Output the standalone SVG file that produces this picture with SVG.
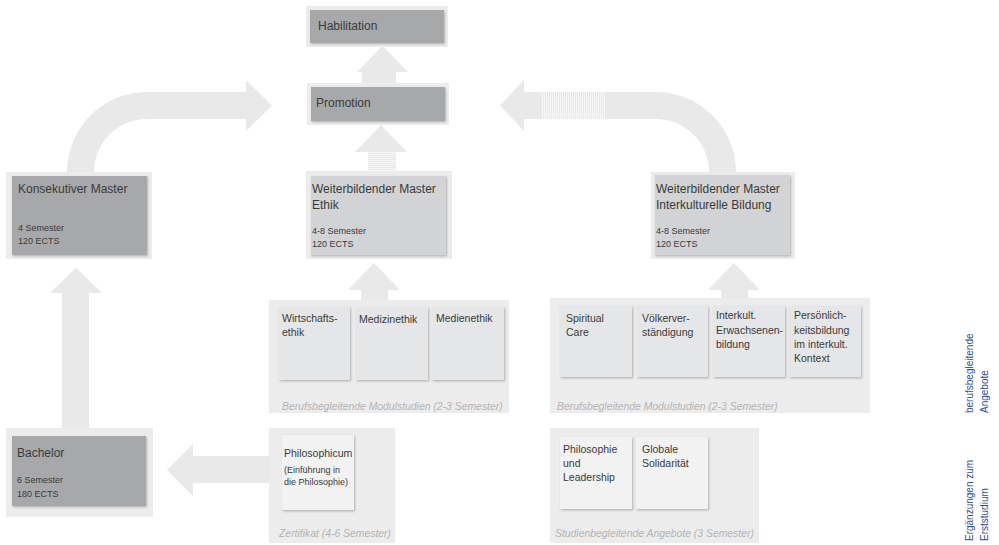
<svg xmlns="http://www.w3.org/2000/svg" width="999" height="545" viewBox="0 0 999 545">
<style>
text{font-family:"Liberation Sans",Arial,sans-serif;fill:#3a3a3a}
.t{font-size:12px}
.s{font-size:9px}
.c{font-size:10.5px}
.cap{font-size:10.4px;font-style:italic;fill:#b4b4b4}
.side{font-size:10px;fill:#2d4c9c}
.frame{fill:#ececec}
.dark{fill:#a7a8aa}
.mid{fill:#d2d3d5}
.card{fill:#e5e6e7}
.cardl{fill:#f2f2f3}
.arr{fill:#e9e9e9}
</style>
<defs>
<filter id="sh" x="-10%" y="-10%" width="130%" height="130%">
<feDropShadow dx="1" dy="1.2" stdDeviation="1" flood-color="#000" flood-opacity="0.25"/>
</filter>
<pattern id="vs" width="2" height="4" patternUnits="userSpaceOnUse">
<rect width="1" height="4" fill="#ffffff" opacity="0.6"/>
</pattern>
<pattern id="hs" width="4" height="2" patternUnits="userSpaceOnUse">
<rect width="4" height="1" fill="#ffffff" opacity="0.6"/>
</pattern>
</defs>

<g id="connectors">
<path class="arr" d="M67,172 A80,80 0 0 1 147,92 L246,92 L246,80 L272,105.5 L246,131 L246,119 L147,119 A53,53 0 0 0 94,172 Z"/>
<path class="arr" d="M736,172 A80,80 0 0 0 656,92 L524,92 L524,80 L500,105.5 L524,131 L524,119 L656,119 A53,53 0 0 1 709,172 Z"/>
<rect x="541" y="92" width="64" height="27" fill="url(#vs)"/>
<path class="arr" d="M362,83 L362,72 L357,72 L382.5,46 L408,72 L396,72 L396,83 Z"/>
<path class="arr" d="M368,172 L368,152 L355,152 L381,125 L407,152 L396,152 L396,172 Z"/>
<rect x="368" y="152" width="28" height="20" fill="url(#hs)"/>
<path class="arr" d="M361,300 L361,290 L348,290 L374,263 L400,290 L388,290 L388,300 Z"/>
<path class="arr" d="M721,298 L721,290 L708,290 L734,263 L760,290 L748,290 L748,298 Z"/>
<path class="arr" d="M62,428 L62,293 L50,293 L76,268 L102,293 L89,293 L89,428 Z"/>
<path class="arr" d="M270,456 L193,456 L193,444 L167,470 L193,496 L193,483 L270,483 Z"/>
</g>

<g id="habilitation">
<rect class="frame" x="306" y="6" width="142" height="41"/>
<rect class="dark" x="310" y="10" width="134" height="33" filter="url(#sh)"/>
<text class="t" x="318" y="30">Habilitation</text>
</g>

<g id="promotion">
<rect class="frame" x="307" y="83" width="142" height="42"/>
<rect class="dark" x="311" y="87" width="134" height="34" filter="url(#sh)"/>
<text class="t" x="316" y="107">Promotion</text>
</g>

<g id="konsekutiver-master">
<rect class="frame" x="6" y="172" width="146" height="87"/>
<rect class="dark" x="12" y="176" width="135" height="79" filter="url(#sh)"/>
<text class="t" x="18" y="193">Konsekutiver Master</text>
<text class="s" x="18" y="231">4 Semester</text>
<text class="s" x="18" y="244">120 ECTS</text>
</g>

<g id="master-ethik">
<rect class="frame" x="306" y="171" width="146" height="88"/>
<rect class="mid" x="311" y="176" width="135" height="79" filter="url(#sh)"/>
<text class="t" x="312" y="193">Weiterbildender Master</text>
<text class="t" x="312" y="209">Ethik</text>
<text class="s" x="312" y="234">4-8 Semester</text>
<text class="s" x="312" y="247">120 ECTS</text>
</g>

<g id="master-interkulturell">
<rect class="frame" x="651" y="172" width="144" height="87"/>
<rect class="mid" x="655" y="175" width="135" height="80" filter="url(#sh)"/>
<text class="t" x="656" y="193">Weiterbildender Master</text>
<text class="t" x="656" y="209">Interkulturelle Bildung</text>
<text class="s" x="656" y="234">4-8 Semester</text>
<text class="s" x="656" y="247">120 ECTS</text>
</g>

<g id="modul-ethik">
<rect class="frame" x="269" y="300" width="240" height="113"/>
<rect class="card" x="279" y="307" width="71" height="73" filter="url(#sh)"/>
<rect class="card" x="356" y="307" width="72" height="73" filter="url(#sh)"/>
<rect class="card" x="432" y="307" width="72" height="73" filter="url(#sh)"/>
<text class="c" x="282" y="322">Wirtschafts-</text>
<text class="c" x="282" y="336">ethik</text>
<text class="c" x="359" y="323">Medizinethik</text>
<text class="c" x="436" y="322">Medienethik</text>
<text class="cap" x="282" y="410">Berufsbegleitende Modulstudien (2-3 Semester)</text>
</g>

<g id="modul-interkulturell">
<rect class="frame" x="550" y="298" width="320" height="115"/>
<rect class="card" x="560" y="306" width="72" height="71" filter="url(#sh)"/>
<rect class="card" x="637" y="306" width="71" height="71" filter="url(#sh)"/>
<rect class="card" x="713" y="306" width="72" height="71" filter="url(#sh)"/>
<rect class="card" x="789" y="306" width="72" height="71" filter="url(#sh)"/>
<text class="c" x="566" y="322">Spiritual</text>
<text class="c" x="566" y="336">Care</text>
<text class="c" x="642" y="322">Völkerver-</text>
<text class="c" x="642" y="336">ständigung</text>
<text class="c" x="716" y="319">Interkult.</text>
<text class="c" x="716" y="334">Erwachsenen-</text>
<text class="c" x="716" y="348">bildung</text>
<text class="c" x="794" y="319">Persönlich-</text>
<text class="c" x="794" y="334">keitsbildung</text>
<text class="c" x="794" y="348">im interkult.</text>
<text class="c" x="794" y="362">Kontext</text>
<text class="cap" x="557" y="410">Berufsbegleitende Modulstudien (2-3 Semester)</text>
</g>

<g id="studienbegleitend">
<rect class="frame" x="550" y="428" width="209" height="115"/>
<rect class="cardl" x="560" y="437" width="72" height="72" filter="url(#sh)"/>
<rect class="cardl" x="636" y="437" width="72" height="72" filter="url(#sh)"/>
<text class="c" x="563" y="453">Philosophie</text>
<text class="c" x="563" y="467">und</text>
<text class="c" x="563" y="481">Leadership</text>
<text class="c" x="642" y="453">Globale</text>
<text class="c" x="642" y="467">Solidarität</text>
<text class="cap" x="555" y="537">Studienbegleitende Angebote (3 Semester)</text>
</g>

<g id="zertifikat">
<rect class="frame" x="269" y="428" width="126" height="115"/>
<rect class="cardl" x="282" y="435" width="72" height="75" filter="url(#sh)"/>
<text class="c" x="284" y="457">Philosophicum</text>
<text class="s" x="284" y="473">(Einführung in</text>
<text class="s" x="284" y="485">die Philosophie)</text>
<text class="cap" x="279" y="537">Zertifikat (4-6 Semester)</text>
</g>

<g id="bachelor">
<rect class="frame" x="6" y="428" width="147" height="89"/>
<rect class="dark" x="12" y="436" width="134" height="70" filter="url(#sh)"/>
<text class="t" x="17" y="457">Bachelor</text>
<text class="s" x="17" y="483">6 Semester</text>
<text class="s" x="17" y="497">180 ECTS</text>
</g>

<g id="side-labels">
<text class="side" transform="translate(973,413) rotate(-90)">berufsbegleitende<tspan x="0" dy="15">Angebote</tspan></text>
<text class="side" transform="translate(973,541) rotate(-90)">Ergänzungen zum<tspan x="0" dy="15">Erststudium</tspan></text>
</g>
</svg>
